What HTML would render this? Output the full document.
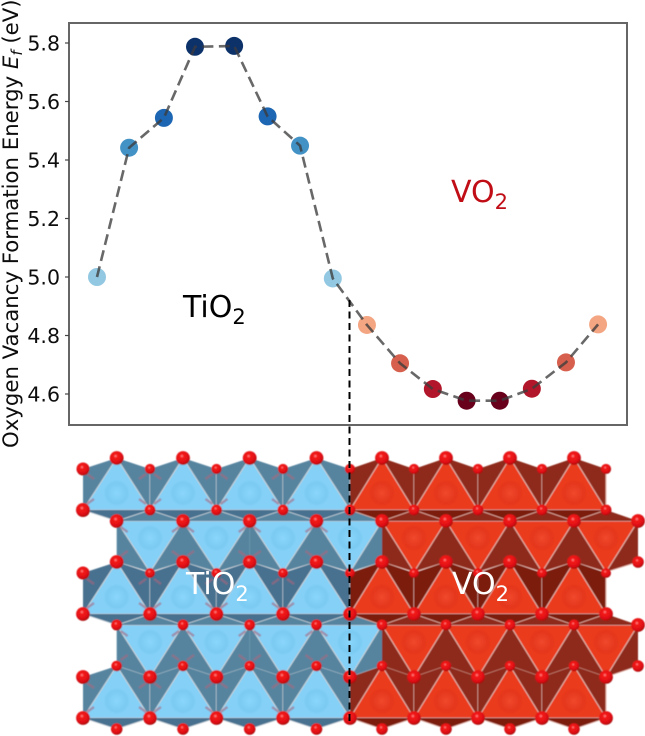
<!DOCTYPE html>
<html lang="en">
<head>
<meta charset="utf-8">
<title>Oxygen vacancy formation energy across a TiO2 / VO2 slab</title>
<style>
html,body{margin:0;padding:0;background:#fff;width:645px;height:736px;overflow:hidden}
svg{display:block}
text{font-family:"DejaVu Sans","Liberation Sans",sans-serif}
</style>
</head>
<body>
<svg id="figure" xmlns="http://www.w3.org/2000/svg" width="645" height="736" viewBox="0 0 645 736">
  <defs>
    <radialGradient id="atomGrad" cx="42%" cy="36%" r="65%">
      <stop offset="0" stop-color="#ff9090"/>
      <stop offset="0.22" stop-color="#f41a1a"/>
      <stop offset="0.75" stop-color="#dc0e12"/>
      <stop offset="1" stop-color="#a00a0e"/>
    </radialGradient>
    <radialGradient id="ionBlue" cx="50%" cy="50%" r="50%">
      <stop offset="0" stop-color="#8ad6fb"/>
      <stop offset="0.8" stop-color="#7acaf2"/>
      <stop offset="1" stop-color="#7acaf2" stop-opacity="0"/>
    </radialGradient>
    <radialGradient id="ionRed" cx="50%" cy="50%" r="50%">
      <stop offset="0" stop-color="#f0482c"/>
      <stop offset="0.8" stop-color="#e4361c"/>
      <stop offset="1" stop-color="#e4361c" stop-opacity="0"/>
    </radialGradient>
    <filter id="soft" x="-2%" y="-2%" width="104%" height="104%"><feGaussianBlur stdDeviation="0.4"/></filter>
    <filter id="softer" x="-2%" y="-2%" width="104%" height="104%"><feGaussianBlur stdDeviation="0.25"/></filter>
  </defs>
  <g id="slab" filter="url(#soft)"></g>
  <g id="chart" filter="url(#softer)"></g>
  <line x1="349.5" y1="300" x2="349.5" y2="722" stroke="#000" stroke-width="2" stroke-dasharray="7,4.5"/>
  <text x="186" y="594" font-size="30" fill="#fff">TiO<tspan font-size="21" dy="7">2</tspan></text>
  <text x="452" y="594" font-size="30" fill="#fff">VO<tspan font-size="21" dy="7">2</tspan></text>
</svg>
<script>
// ---- chart data ----
var layerPositions = [0, 0.96, 2.0, 2.93, 4.1, 5.1, 6.07, 7.05, 8.07, 9.06, 10.04, 11.05, 12.04, 13.0, 14.02, 14.98];
var formationEnergies = [5.0, 5.442, 5.544, 5.787, 5.79, 5.549, 5.449, 4.995, 4.836, 4.705, 4.617, 4.577, 4.577, 4.618, 4.708, 4.838];
var pointColors = ['#93c8e2','#4292c6','#1f66b3','#08306b','#08306b','#1f66b3','#4292c6','#93c8e2','#f4a582','#d6604d','#b2182b','#67001f','#67001f','#b2182b','#d6604d','#f4a582'];
var yTicks = [4.6, 4.8, 5.0, 5.2, 5.4, 5.6, 5.8];
var SVGNS = 'http://www.w3.org/2000/svg';

function xAxis(v){ return 97 + v * 33.45; }
function yAxis(v){ return 277 - (v - 5) * 292.5; }

function shape(parent, tag, attrs, name){
  var el = document.createElementNS(SVGNS, tag);
  for (var k in attrs) { el.setAttribute(k, attrs[k]); }
  
  
  parent.appendChild(el);
  return el;
}

// ---- chart ----
var chart = document.getElementById('chart');
shape(chart, 'rect', {x:69, y:23, width:558, height:402, fill:'#fff', stroke:'#666', 'stroke-width':2}, 'plot-frame');

yTicks.forEach(function(t){
  var y = yAxis(t);
  shape(chart, 'line', {x1:65, x2:69, y1:y, y2:y, stroke:'#444', 'stroke-width':1.2}, 'y-tick');
  var label = shape(chart, 'text', {x:60, y:y + 7.5, 'text-anchor':'end', 'font-size':20.5, fill:'#111'}, 'y-tick-label');
  label.textContent = t.toFixed(1);
});

formationEnergies.forEach(function(e, i){
  shape(chart, 'circle', {cx:xAxis(layerPositions[i]), cy:yAxis(e), r:9, fill:pointColors[i]}, 'energy-point');
});

var linePoints = formationEnergies.map(function(e, i){
  return xAxis(layerPositions[i]) + ',' + yAxis(e);
}).join(' ');
shape(chart, 'polyline', {points:linePoints, fill:'none', stroke:'#3c3c3c', 'stroke-opacity':0.78, 'stroke-width':2.6, 'stroke-dasharray':'11,5.5'}, 'energy-trend-line');

var yTitle = shape(chart, 'text', {transform:'translate(18,448) rotate(-90)', 'font-size':21.25, fill:'#111'}, 'y-axis-title');
yTitle.innerHTML = 'Oxygen Vacancy Formation Energy <tspan font-style="italic">E</tspan><tspan font-style="italic" font-size="15" dy="4">f</tspan><tspan dy="-4"> (eV)</tspan>';

var t1 = shape(chart, 'text', {x:183, y:317, 'font-size':30, fill:'#000'}, 'tio2-region-label');
t1.innerHTML = 'TiO<tspan font-size="21" dy="7">2</tspan>';
var t2 = shape(chart, 'text', {x:451, y:202, 'font-size':30, fill:'#c00f16'}, 'vo2-region-label');
t2.innerHTML = 'VO<tspan font-size="21" dy="7">2</tspan>';

// ---- crystal slab ----
var slab = document.getElementById('slab');
var apexXs = [116.7, 183, 249.7, 316.5, 382, 446, 510, 574, 638];
var baseXs = [83, 150, 216.5, 283, 350, 414, 478, 542, 606];
var BLUE = {dark:'#56849f', deep:'#46718f', bright:'#84d0f7', ion:'url(#ionBlue)', edge:'#c9d3da'};
var RED  = {dark:'#8e2c1a', deep:'#7c1a08', bright:'#ea3a1e', ion:'url(#ionRed)', edge:'#e6b3a8'};
function pal(i){ return i < 4 ? BLUE : RED; }

function poly(pts, fill, name){
  shape(slab, 'polygon', {points:pts.map(function(p){return p.join(',');}).join(' '), fill:fill}, name);
}
function seg(x1, y1, x2, y2, color, w, name){
  shape(slab, 'line', {x1:x1, y1:y1, x2:x2, y2:y2, stroke:color, 'stroke-width':w}, name);
}

// upward pointing row: apex at yA, shoulders at yM, base at yB
function upRow(yA, yM, yB, deepShade){
  for (var i = 0; i < 8; i++) {
    var c = pal(i), a = apexXs[i], l = baseXs[i], r = baseXs[i + 1];
    poly([[l,yB],[l,yM],[a,yA],[r,yM],[r,yB]], deepShade ? c.deep : c.dark, 'octahedron-shadow');
    poly([[l,yB],[a,yA],[r,yB]], c.bright, 'octahedron-face');
    shape(slab, 'circle', {cx:a, cy:yB - 17, r:13, fill:c.ion}, 'metal-ion');
    seg(l, yB, a, yA, c.edge, 1.1, 'octahedron-edge');
    seg(a, yA, r, yB, c.edge, 1.1, 'octahedron-edge');
    seg(l, yB, r, yB, c.edge, 1.1, 'octahedron-edge');
    seg(r, yM, r, yB, c.edge, 1.1, 'octahedron-edge');
  }
}
// downward pointing row: base at yT, shoulders at yM, apex at yA
function downRow(yT, yM, yA){
  for (var i = 0; i < 8; i++) {
    var c = pal(i), l = apexXs[i], r = apexXs[i + 1], a = baseXs[i + 1];
    poly([[l,yT],[r,yT],[r,yM],[a,yA],[l,yM]], c.dark, 'octahedron-shadow');
    poly([[l,yT],[r,yT],[a,yA]], c.bright, 'octahedron-face');
    shape(slab, 'circle', {cx:a, cy:yT + 17, r:13, fill:c.ion}, 'metal-ion');
    seg(l, yT, r, yT, c.edge, 1.1, 'octahedron-edge');
    seg(l, yT, a, yA, c.edge, 1.1, 'octahedron-edge');
    seg(r, yT, a, yA, c.edge, 1.1, 'octahedron-edge');
    seg(l, yM, a, yA, c.edge, 0.9, 'octahedron-edge');
    seg(r, yM, a, yA, c.edge, 0.9, 'octahedron-edge');
  }
}
// dark wedges joining a row's base to the next row
function seam(yB, yT, withBackfill){
  for (var i = 0; i < 8; i++) {
    var c = pal(i);
    poly([[baseXs[i],yB],[apexXs[i],yT],[baseXs[i + 1],yB]], c.deep, 'row-seam');
    if (withBackfill) { poly([[apexXs[i],yT],[baseXs[i + 1],yB],[apexXs[i + 1],yT]], c.dark, 'row-seam'); }
    seg(baseXs[i], yB, apexXs[i], yT, c.edge, 0.9, 'bond');
    seg(apexXs[i], yT, baseXs[i + 1], yB, c.edge, 0.9, 'bond');
  }
}
function atoms(xs, y, r){
  xs.forEach(function(x){
    shape(slab, 'circle', {cx:x, cy:y, r:r, fill:'url(#atomGrad)'}, 'oxygen-atom');
  });
}
// faint bonds seen through the blue octahedra
function pinkBonds(xs, y, dir){
  xs.forEach(function(x){
    if (x > 345) return;
    if (x > 125) {
      shape(slab, 'line', {x1:x - 11, y1:y + dir * 7, x2:x - 4, y2:y + dir * 2, stroke:'#a8687e', 'stroke-width':2.4, 'stroke-opacity':0.6}, 'hidden-bond');
    }
    shape(slab, 'line', {x1:x + 11, y1:y + dir * 7, x2:x + 4, y2:y + dir * 2, stroke:'#a8687e', 'stroke-width':2.4, 'stroke-opacity':0.6}, 'hidden-bond');
  });
}

var upApex = apexXs.slice(0, 8);

upRow(458, 469, 510, false);
downRow(521, 562, 572);
upRow(562, 573, 614, true);
downRow(625, 666, 677);
upRow(666, 677, 718, false);
seam(510, 521, true);
seam(614, 625, true);
seam(718, 729, false);

pinkBonds(baseXs, 472, 1);
pinkBonds(baseXs, 506, -1);
pinkBonds(apexXs, 525, 1);
pinkBonds(apexXs, 558, -1);
pinkBonds(baseXs, 577, 1);
pinkBonds(baseXs, 610, -1);
pinkBonds(apexXs, 629, 1);
pinkBonds(apexXs, 662, -1);
pinkBonds(baseXs, 681, 1);
pinkBonds(baseXs, 714, -1);

// oxygen atoms, back layers smaller
atoms(upApex, 458, 6.9);
atoms(baseXs.slice(1), 469, 5.1);
atoms([83], 469, 6.5);
atoms(baseXs.slice(1), 510, 5.5);
atoms([83], 510, 7);
atoms(apexXs, 521, 6.9);
atoms(upApex, 562, 6.9);
atoms([638], 562, 5.8);
atoms(baseXs.slice(1), 573, 5);
atoms([83], 573, 6.5);
atoms(baseXs, 614, 6.9);
atoms(upApex, 625, 5.5);
atoms([638], 625, 6.9);
atoms(upApex, 666, 5.3);
atoms([638], 666, 5.8);
atoms(baseXs, 677, 6.9);
atoms(baseXs, 718, 6.9);
atoms(upApex, 729, 5.8);
</script>
</body>
</html>
